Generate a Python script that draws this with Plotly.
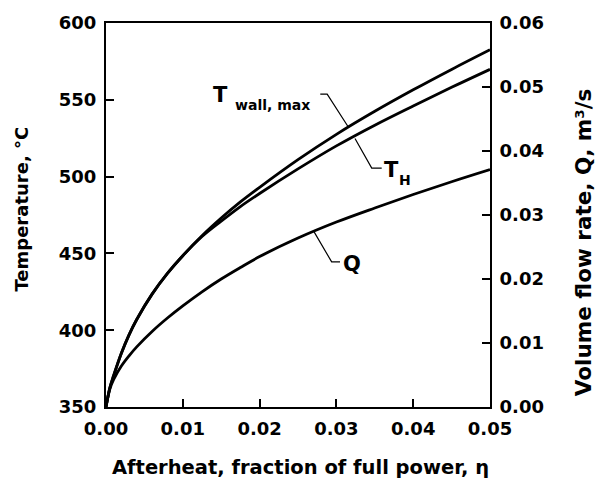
import plotly.graph_objects as go

# Afterheat fraction (x)
eta = [0, 0.0005, 0.001, 0.002, 0.003, 0.004, 0.006, 0.008, 0.010, 0.0125,
       0.015, 0.0175, 0.020, 0.025, 0.030, 0.035, 0.040, 0.045, 0.050]
# Maximum wall temperature, degC
t_wall_max = [350, 362.5, 370.5, 385, 397, 407, 423.5, 437, 448.5, 461.5,
              473, 483.5, 493, 511, 527.5, 542.5, 556.5, 569.8, 582.6]
# Hot temperature T_H, degC
t_h = [350, 362.5, 370.5, 385, 397, 407, 423.5, 437, 448.5, 461,
       471, 480.5, 489, 505, 520, 533.5, 546, 558.1, 569.8]
# Volume flow rate Q, m3/s
q_flow = [0, 0.0028, 0.0043, 0.0064, 0.0080, 0.0094, 0.0118, 0.0139, 0.0158, 0.0180,
          0.0200, 0.0218, 0.0235, 0.0264, 0.0289, 0.0311, 0.0332, 0.0352, 0.0371]

x_ticks = [0.00, 0.01, 0.02, 0.03, 0.04, 0.05]
x_tick_labels = ["0.00", "0.01", "0.02", "0.03", "0.04", "0.05"]
y_ticks = [350, 400, 450, 500, 550, 600]
y2_ticks = [0.00, 0.01, 0.02, 0.03, 0.04, 0.05, 0.06]
y2_tick_labels = ["0.00", "0.01", "0.02", "0.03", "0.04", "0.05", "0.06"]

FONT = "DejaVu Sans"
line_style = dict(color="black", width=2.8)

fig = go.Figure()
fig.add_trace(go.Scatter(x=eta, y=t_wall_max, mode="lines", line=dict(**line_style, shape="spline"),
                         yaxis="y", showlegend=False, hoverinfo="skip"))
fig.add_trace(go.Scatter(x=eta, y=t_h, mode="lines", line=dict(**line_style, shape="spline"),
                         yaxis="y", showlegend=False, hoverinfo="skip"))
fig.add_trace(go.Scatter(x=eta, y=q_flow, mode="lines", line=dict(**line_style, shape="spline"),
                         yaxis="y2", showlegend=False, hoverinfo="skip"))

axis_common = dict(showline=True, linecolor="black", linewidth=2, ticks="inside", ticklen=8,
                   tickwidth=2, tickcolor="black", showgrid=False, zeroline=False,
                   tickfont=dict(family=FONT, size=18, color="black", weight="bold"))

fig.update_layout(
    width=602, height=483,
    margin=dict(l=106, r=112, t=18, b=76),
    paper_bgcolor="white", plot_bgcolor="white",
    font=dict(family=FONT, color="black", weight="bold"),
    xaxis=dict(range=[0, 0.05], tickvals=x_ticks, ticktext=x_tick_labels, mirror=True,
               ticklabelstandoff=4, **axis_common),
    yaxis=dict(range=[350, 600], tickvals=y_ticks, ticklabelstandoff=4, **axis_common),
    yaxis2=dict(range=[0, 0.06], tickvals=y2_ticks, ticktext=y2_tick_labels, overlaying="y",
                side="right", ticklabelstandoff=4, **axis_common),
)

# Leader lines (data coordinates on left axis)
leaders = [
    ([0.0279, 0.0288, 0.03155], [553.7, 553.7, 532.3]),
    ([0.03242, 0.0346, 0.0359], [524.8, 505.5, 505.5]),
    ([0.0270, 0.02938, 0.03047], [464.8, 444.5, 444.5]),
]
for lx, ly in leaders:
    fig.add_trace(go.Scatter(x=lx, y=ly, mode="lines", line=dict(color="black", width=1.2),
                             yaxis="y", showlegend=False, hoverinfo="skip"))

def label(x, y, text, size):
    fig.add_annotation(x=x, y=y, xref="x", yref="y", text=text, showarrow=False,
                       font=dict(family=FONT, size=size, color="black", weight="bold"),
                       xanchor="center", yanchor="middle")

label(0.01497, 553.1, "T", 21)
label(0.02174, 546.7, "wall, max", 14)
label(0.03711, 504.2, "T", 21)
label(0.03893, 497.8, "H", 14)
label(0.03203, 443.2, "Q", 21)

# Axis titles
fig.add_annotation(xref="paper", yref="paper", x=(300 - 106) / 384, y=-(468 - 407) / 389,
                   xanchor="center", yanchor="middle",
                   text="Afterheat, fraction of full power, η", showarrow=False,
                   font=dict(family=FONT, size=19.5, color="black", weight="bold"))
fig.add_annotation(xref="paper", yref="paper", x=-(106 - 22) / 384, y=(407 - 207) / 389,
                   text="Temperature, °C", textangle=-90, showarrow=False,
                   xanchor="center", yanchor="middle",
                   font=dict(family=FONT, size=18, color="black", weight="bold"))
fig.add_annotation(xref="paper", yref="paper", x=(583 - 106) / 384, y=(407 - 241) / 389,
                   text="Volume flow rate, Q, m³/s", textangle=-90, showarrow=False,
                   xanchor="center", yanchor="middle",
                   font=dict(family=FONT, size=21.5, color="black", weight="bold"))

fig.write_html("out.html")
